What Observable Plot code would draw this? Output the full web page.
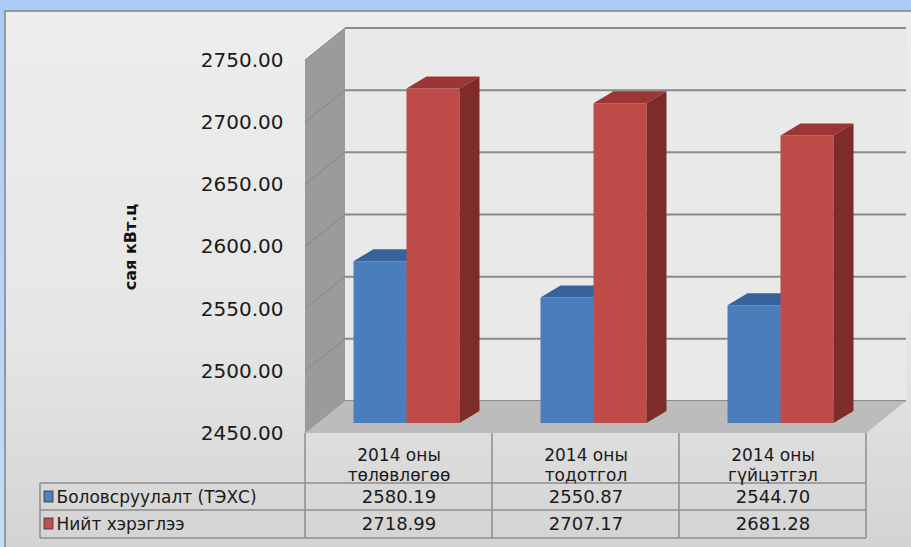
<!DOCTYPE html>
<html><head><meta charset="utf-8">
<script src="https://cdn.jsdelivr.net/npm/d3@7"></script>
<script src="https://cdn.jsdelivr.net/npm/@observablehq/plot@0.6"></script>
<style>
html,body{margin:0;padding:0;background:#fff;}
#wrap{position:relative;width:911px;height:547px;overflow:hidden;background:linear-gradient(#a9cbf4,#c6dcf6);}
#panel{position:absolute;left:4px;top:10px;width:905px;height:540px;border-top:2px solid #8f9aa6;border-left:2px solid #8f9aa6;background:linear-gradient(#ededed 0%,#e6e6e6 60%,#d3d3d3 100%);}
#chart{position:absolute;left:0;top:0;}
</style></head><body>
<div id="wrap"><div id="panel"></div><div id="chart"></div></div>
<script>
// ---- data ----
const categories = ["2014 оны\nтөлөвлөгөө", "2014 оны\nтодотгол", "2014 оны\nгүйцэтгэл"];
const seriesNames = ["Боловсруулалт (ТЭХС)", "Нийт хэрэглээ"];
const production = [2580.19, 2550.87, 2544.70];
const consumption = [2718.99, 2707.17, 2681.28];
const yTicks = [2450, 2500, 2550, 2600, 2650, 2700, 2750];
const yTitle = "сая кВт.ц";

// ---- styling / geometry ----
const W = 911, H = 547;
const FONT = "DejaVu Sans, Liberation Sans, Arial, sans-serif";
const WALL_DX = 40, WALL_DY = -32;   // depth of back wall
const BAR_DX = 8, BAR_DY = -10;      // bar plane offset
const BAR_W = 53, DEP_DX = 20, DEP_DY = -12;
const ROW_Y = [50, 77, 105];         // table row borders below the floor front edge
const colors = [
  {front: "#4a7ebb", top: "#37639b", side: "#2e5482", legend: "#4f81bd"},
  {front: "#be4b48", top: "#9c3634", side: "#7d2c2a", legend: "#c0504d"}
];
const series = [production, consumption];

function poly(g, pts, fill, stroke) {
  g.append("path").attr("d", "M" + pts.map(p => p.join(",")).join("L") + "Z")
    .attr("fill", fill).attr("stroke", stroke || "none");
}
function bandwidthOf(x) { return typeof x.bandwidth === "function" ? x.bandwidth() : x.bandwidth; }

function walls(index, {x, y}) {
  const g = d3.create("svg:g");
  const [x0, x1] = x.range();
  const yTop = y(yTicks[yTicks.length - 1]), yBot = y(yTicks[0]);
  poly(g, [[x0 + WALL_DX, yTop + WALL_DY], [x1 + WALL_DX, yTop + WALL_DY], [x1 + WALL_DX, yBot + WALL_DY], [x0 + WALL_DX, yBot + WALL_DY]], "#e9e9e9");
  poly(g, [[x0, yTop], [x0 + WALL_DX, yTop + WALL_DY], [x0 + WALL_DX, yBot + WALL_DY], [x0, yBot]], "#9b9b9b");
  for (const t of yTicks) {
    g.append("line").attr("x1", x0).attr("y1", y(t)).attr("x2", x0 + WALL_DX).attr("y2", y(t) + WALL_DY)
      .attr("stroke", "#858585").attr("stroke-width", 1);
    g.append("line").attr("x1", x0 + WALL_DX).attr("y1", y(t) + WALL_DY).attr("x2", x1 + WALL_DX).attr("y2", y(t) + WALL_DY)
      .attr("stroke", "#8a8a8a").attr("stroke-width", 2);
  }
  poly(g, [[x0, yBot], [x0 + WALL_DX, yBot + WALL_DY], [x1 + WALL_DX, yBot + WALL_DY], [x1, yBot]], "#bcbcbc");
  return g.node();
}

function bars3d(index, {x, y}) {
  const g = d3.create("svg:g");
  const bw = bandwidthOf(x);
  const base = yTicks[0];
  categories.forEach((c, i) => {
    const cx = x(c) + bw / 2 + BAR_DX;
    series.forEach((vals, s) => {
      const v = vals[i];
      const xa = s === 0 ? cx - BAR_W : cx, xb = xa + BAR_W;
      const yt = y(v) + BAR_DY, yb = y(base) + BAR_DY;
      const col = colors[s];
      poly(g, [[xa, yt], [xb, yt], [xb, yb], [xa, yb]], col.front);
      poly(g, [[xa, yt], [xa + DEP_DX, yt + DEP_DY], [xb + DEP_DX, yt + DEP_DY], [xb, yt]], col.top);
      poly(g, [[xb, yt], [xb + DEP_DX, yt + DEP_DY], [xb + DEP_DX, yb + DEP_DY], [xb, yb]], col.side);
    });
  });
  return g.node();
}

function tableGrid(index, {x, y}) {
  const g = d3.create("svg:g").attr("stroke", "#8c8c8c").attr("stroke-width", 1.5);
  const [x0, x1] = x.range();
  const bw = bandwidthOf(x);
  const yb = y(yTicks[0]);
  const rows = ROW_Y.map(r => yb + r);
  const legendLeft = 40;
  const edges = categories.map(c => x(c)).concat([x(categories[categories.length - 1]) + bw]);
  for (const e of edges) g.append("line").attr("x1", e).attr("x2", e).attr("y1", yb).attr("y2", rows[2]);
  g.append("line").attr("x1", legendLeft).attr("x2", legendLeft).attr("y1", rows[0]).attr("y2", rows[2]);
  for (const r of rows) g.append("line").attr("x1", legendLeft).attr("x2", x1).attr("y1", r).attr("y2", r);
  seriesNames.forEach((n, s) => {
    g.append("rect").attr("x", legendLeft + 4).attr("y", rows[s] + 8).attr("width", 9).attr("height", 11)
      .attr("fill", colors[s].legend).attr("stroke", "#333").attr("stroke-width", 0.8);
  });
  return g.node();
}

const textStyle = {frameAnchor: "bottom", lineAnchor: "middle", fill: "#1a1a1a"};

const chart = Plot.plot({
  width: W, height: H,
  marginLeft: 305, marginRight: 45, marginTop: 60, marginBottom: 114,
  style: {fontFamily: FONT, background: "transparent", color: "#1a1a1a"},
  x: {type: "band", domain: categories, padding: 0, axis: null},
  y: {domain: [yTicks[0], yTicks[yTicks.length - 1]], axis: null},
  marks: [
    walls,
    bars3d,
    tableGrid,
    Plot.axisY(yTicks, {tickSize: 0, tickPadding: 22, tickFormat: d => d.toFixed(2), fontSize: 20, label: null, fill: "#1a1a1a"}),
    Plot.text([yTitle], {frameAnchor: "left", textAnchor: "middle", lineAnchor: "middle", dx: -175, rotate: -90, fontWeight: "bold", fontSize: 16, fill: "#111"}),
    Plot.text(categories, {...textStyle, x: d => d, text: d => d, dy: 31, fontSize: 17, lineHeight: 1.15}),
    Plot.text(production, {...textStyle, x: (d, i) => categories[i], text: d => d.toFixed(2), dy: ROW_Y[0] + 14, fontSize: 18}),
    Plot.text(consumption, {...textStyle, x: (d, i) => categories[i], text: d => d.toFixed(2), dy: ROW_Y[1] + 14, fontSize: 18}),
    Plot.text([seriesNames[0]], {frameAnchor: "bottom-left", lineAnchor: "middle", textAnchor: "start", dx: -249, dy: ROW_Y[0] + 14, fontSize: 17, fill: "#1a1a1a"}),
    Plot.text([seriesNames[1]], {frameAnchor: "bottom-left", lineAnchor: "middle", textAnchor: "start", dx: -249, dy: ROW_Y[1] + 14, fontSize: 17, fill: "#1a1a1a"})
  ]
});
document.getElementById("chart").appendChild(chart);
</script>
</body></html>
